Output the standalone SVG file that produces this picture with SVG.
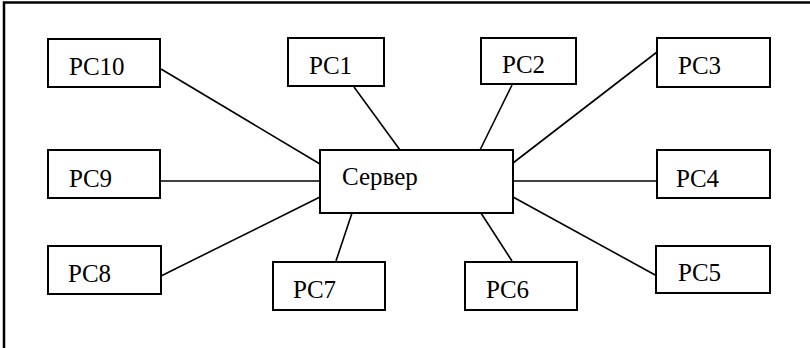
<svg xmlns="http://www.w3.org/2000/svg" width="810" height="348" viewBox="0 0 810 348">
<style>
.box{fill:#fff;stroke:#000;stroke-width:2}
.lbl{font-family:'Liberation Serif','Times New Roman','DejaVu Serif',serif;font-size:25px;fill:#000}
.conn line{stroke:#000;stroke-width:1.6}
</style>
<rect width="810" height="348" fill="#fff"/>
<path d="M4,348 V2.5 H810" fill="none" stroke="#000" stroke-width="2.5"/>
<g class="conn" id="connectors">
<line x1="161" y1="69" x2="320" y2="164"/>
<line x1="354" y1="87" x2="400" y2="150"/>
<line x1="512" y1="85" x2="480" y2="150"/>
<line x1="657" y1="52" x2="513" y2="163"/>
<line x1="160" y1="181" x2="320" y2="181"/>
<line x1="513" y1="181" x2="657" y2="181"/>
<line x1="161" y1="276" x2="320" y2="197"/>
<line x1="336" y1="261" x2="352" y2="213"/>
<line x1="512" y1="261" x2="481" y2="213"/>
<line x1="657" y1="276" x2="513" y2="197"/>
</g>
<g font-family="Liberation Serif, Times New Roman, serif">
<g id="server"><rect class="box" x="320" y="150" width="193" height="63"/><text class="lbl" x="342" y="185">Сервер</text></g>
<g id="pc1"><rect class="box" x="288" y="38" width="96" height="48"/><text class="lbl" x="309" y="74">PC1</text></g>
<g id="pc2"><rect class="box" x="481" y="38" width="95" height="46"/><text class="lbl" x="502" y="73">PC2</text></g>
<g id="pc3"><rect class="box" x="657" y="38" width="113" height="49"/><text class="lbl" x="678" y="74">PC3</text></g>
<g id="pc4"><rect class="box" x="657" y="150" width="113" height="48"/><text class="lbl" x="676" y="187">PC4</text></g>
<g id="pc5"><rect class="box" x="656" y="246" width="114" height="47"/><text class="lbl" x="678" y="281">PC5</text></g>
<g id="pc6"><rect class="box" x="465" y="262" width="112" height="48"/><text class="lbl" x="486" y="298">PC6</text></g>
<g id="pc7"><rect class="box" x="273" y="262" width="112" height="48"/><text class="lbl" x="293" y="298">PC7</text></g>
<g id="pc8"><rect class="box" x="48" y="246" width="113" height="48"/><text class="lbl" x="68" y="282">PC8</text></g>
<g id="pc9"><rect class="box" x="48" y="150" width="112" height="48"/><text class="lbl" x="69" y="187">PC9</text></g>
<g id="pc10"><rect class="box" x="48" y="39" width="112" height="48"/><text class="lbl" x="69" y="75">PC10</text></g>
</g>
</svg>
